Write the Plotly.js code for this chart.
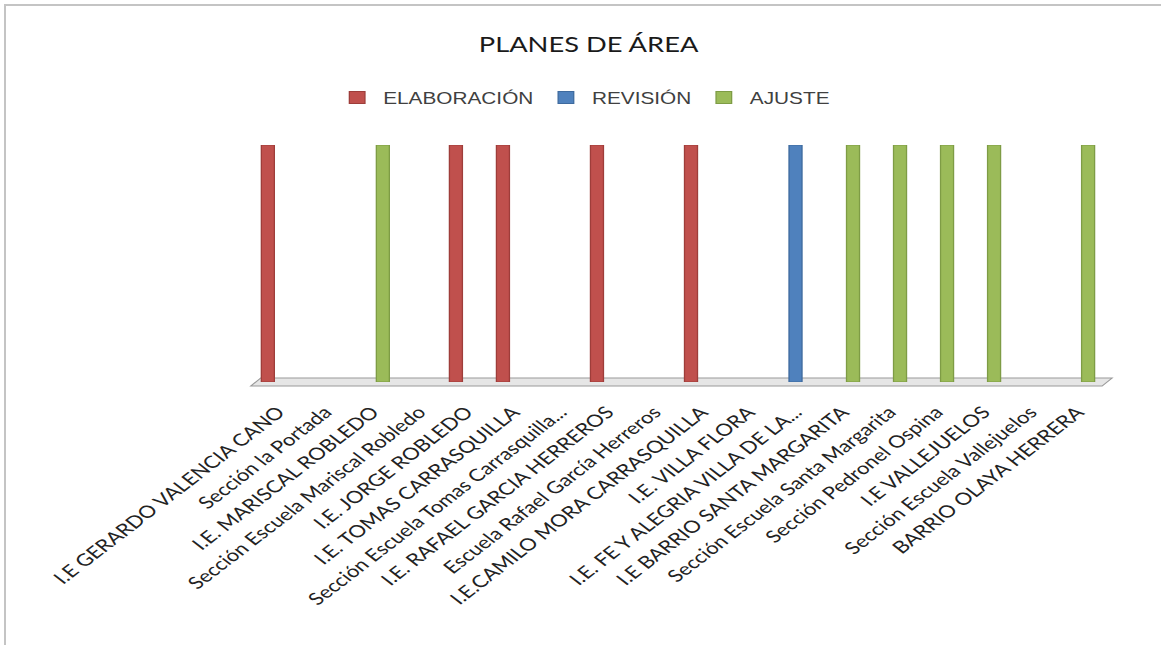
<!DOCTYPE html>
<html>
<head>
<meta charset="utf-8">
<script src="https://cdn.plot.ly/plotly-3.0.1.min.js"></script>
<style>
html,body{margin:0;padding:0;background:#fff;overflow:hidden;}
#frame{position:absolute;left:4px;top:4px;width:1170px;height:660px;border-left:2px solid #c4c4c4;border-top:2px solid #c4c4c4;}
#chart{position:absolute;left:0;top:0;width:893px;height:645px;transform:scaleX(1.3);transform-origin:0 0;}
</style>
</head>
<body>
<div id="frame"></div>
<div id="chart"></div>
<script>
const categories = [
  "I.E GERARDO VALENCIA CANO",
  "Sección la Portada",
  "I.E. MARISCAL ROBLEDO",
  "Sección Escuela Mariscal Robledo",
  "I.E. JORGE ROBLEDO",
  "I.E. TOMAS CARRASQUILLA",
  "Sección Escuela Tomas Carrasquilla...",
  "I.E. RAFAEL GARCIA HERREROS",
  "Escuela Rafael García Herreros",
  "I.E.CAMILO MORA CARRASQUILLA",
  "I.E. VILLA FLORA",
  "I.E. FE Y ALEGRIA VILLA DE LA...",
  "I.E BARRIO SANTA MARGARITA",
  "Sección Escuela Santa Margarita",
  "Sección Pedronel Ospina",
  "I.E VALLEJUELOS",
  "Sección Escuela Vallejuelos",
  "BARRIO OLAYA HERRERA"
];
const elaboracion = [1,null,null,null,1,1,null,1,null,1,null,null,null,null,null,null,null,null];
const revision    = [null,null,null,null,null,null,null,null,null,null,null,1,null,null,null,null,null,null];
const ajuste      = [null,null,1,null,null,null,null,null,null,null,null,null,1,1,1,1,null,1];

const seriesNames = ["ELABORACIÓN","REVISIÓN","AJUSTE"];
const colors = ["#C0504D","#4F81BD","#9BBB59"];
const edges  = ["#9E3D3A","#3E6A9E","#7E9C45"];
const offsets = [-0.361,-0.138,0.085];
const values = [elaboracion, revision, ajuste];

const traces = values.map((v,i)=>({
  type:'bar', x:categories, y:v, name:seriesNames[i],
  width:0.277, offset:offsets[i],
  marker:{color:colors[i], line:{color:edges[i], width:1}},
  hoverinfo:'x+y+name'
}));

// floor plate (paper coords, measured in the stretched picture)
function px(x){return (x-255)/846;}
function py(y){return (382-y)/237;}
const floorPath = `M ${px(261)} ${py(378)} L ${px(1112)} ${py(378)} L ${px(1102)} ${py(386)} L ${px(251)} ${py(386)} Z`;

const layout = {
  width:893, height:645,
  paper_bgcolor:'rgba(0,0,0,0)', plot_bgcolor:'rgba(0,0,0,0)',
  margin:{l:196, r:46, t:145, b:263},
  title:{text:'PLANES DE ÁREA', x:0.507, xanchor:'center', y:0.93, yanchor:'middle',
         font:{family:'Lato, sans-serif', size:21, color:'#1a1a1a'}},
  barmode:'overlay',
  showlegend:true,
  legend:{orientation:'h', x:0.389, xanchor:'center', y:1.2, yanchor:'middle',
          font:{family:'Liberation Sans, Arial, sans-serif', size:16, color:'#404040'},
          itemwidth:30, tracegroupgap:0, bgcolor:'rgba(0,0,0,0)'},
  xaxis:{type:'category', tickangle:-45, showline:false, showgrid:false, zeroline:false,
         ticks:'', ticklabelstandoff:16,
         tickfont:{family:'Lato, sans-serif', size:17, color:'#222222'}},
  yaxis:{range:[0,1], visible:false, fixedrange:true},
  shapes:[{type:'path', xref:'paper', yref:'paper', path:floorPath,
           fillcolor:'#e6e6e6', line:{color:'#9a9a9a', width:1}, layer:'below'}]
};

Plotly.newPlot('chart', traces, layout, {displayModeBar:false, staticPlot:true});
</script>
</body>
</html>
